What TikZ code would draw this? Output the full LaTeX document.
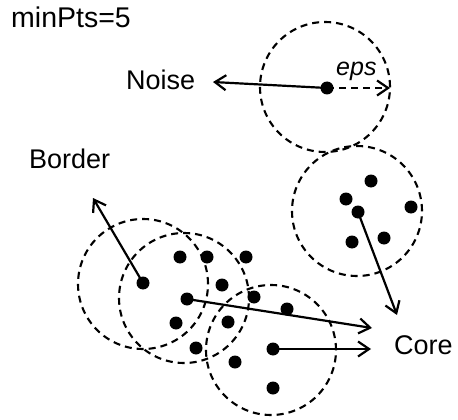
\documentclass[tikz,border=0pt]{standalone}
\usepackage{fontspec}
\setmainfont{Liberation Sans}
\usetikzlibrary{arrows.meta}
\begin{document}
\begin{tikzpicture}[x=1pt,y=-1pt,
  dot/.style={circle,fill=black,inner sep=0pt,minimum size=13pt},
  epsring/.style={circle,draw=black,line width=2.1pt,dash pattern=on 7pt off 5pt,inner sep=0pt,minimum size=130pt},
  ptr/.style={line width=2.2pt,-{Straight Barb[length=11pt,width=15pt,line width=2.2pt]}},
  lbl/.style={font=\fontsize{27}{30}\selectfont,inner sep=0pt,anchor=base west}]
\useasboundingbox (0,0) rectangle (458,420);
\fill[white] (0,0) rectangle (458,420);
% rings
\node[epsring] (r1) at (325,87) {};
\node[epsring] (r2) at (357,211) {};
\node[epsring] (r3) at (143,284) {};
\node[epsring] (r4) at (184,298) {};
\node[epsring] (r5) at (271,350) {};
% dots
\node[dot] (n) at (327,88) {};
\node[dot] (u1) at (371,181) {};
\node[dot] (u2) at (346,199) {};
\node[dot] (u3) at (358,212) {};
\node[dot] (u4) at (411,207) {};
\node[dot] (u5) at (352,242) {};
\node[dot] (u6) at (384,238) {};
\node[dot] (b) at (143,283) {};
\node[dot] (d1) at (180,257) {};
\node[dot] (d2) at (207,257) {};
\node[dot] (d3) at (246,257) {};
\node[dot] (d4) at (222,285) {};
\node[dot] (c1) at (187,299) {};
\node[dot] (d5) at (254,297) {};
\node[dot] (d6) at (287,309) {};
\node[dot] (d7) at (176,323) {};
\node[dot] (d8) at (228,322) {};
\node[dot] (d9) at (196,348) {};
\node[dot] (d10) at (235,362) {};
\node[dot] (c2) at (273,349) {};
\node[dot] (d11) at (273,388) {};
% labels
\node[lbl,font=\fontsize{28.5}{31}\selectfont] (mp) at (11,28) {minPts=5};
\node[lbl] (noise) at (126,89) {Noise};
\node[lbl] (border) at (29,168) {Border};
\node[lbl] (core) at (394,354) {Core};
\node[font=\fontsize{25}{28}\selectfont\itshape,inner sep=0pt,anchor=base west] (eps) at (336,75) {eps};
% free ends
\coordinate (tn) at (213,82);
\coordinate (te) at (390,88);
\coordinate (tb) at (93,198);
\coordinate (tu) at (397,315);
\coordinate (tc1) at (372,328);
\coordinate (tc2) at (371,349);
% arrows
\draw[ptr] (n.center) -- (tn);
\draw[ptr,dash pattern=on 7pt off 5pt] (n.center) -- (te);
\draw[ptr] (b.center) -- (tb);
\draw[ptr] (u3.center) -- (tu);
\draw[ptr] (c1.center) -- (tc1);
\draw[ptr] (c2.center) -- (tc2);
\end{tikzpicture}
\end{document}
